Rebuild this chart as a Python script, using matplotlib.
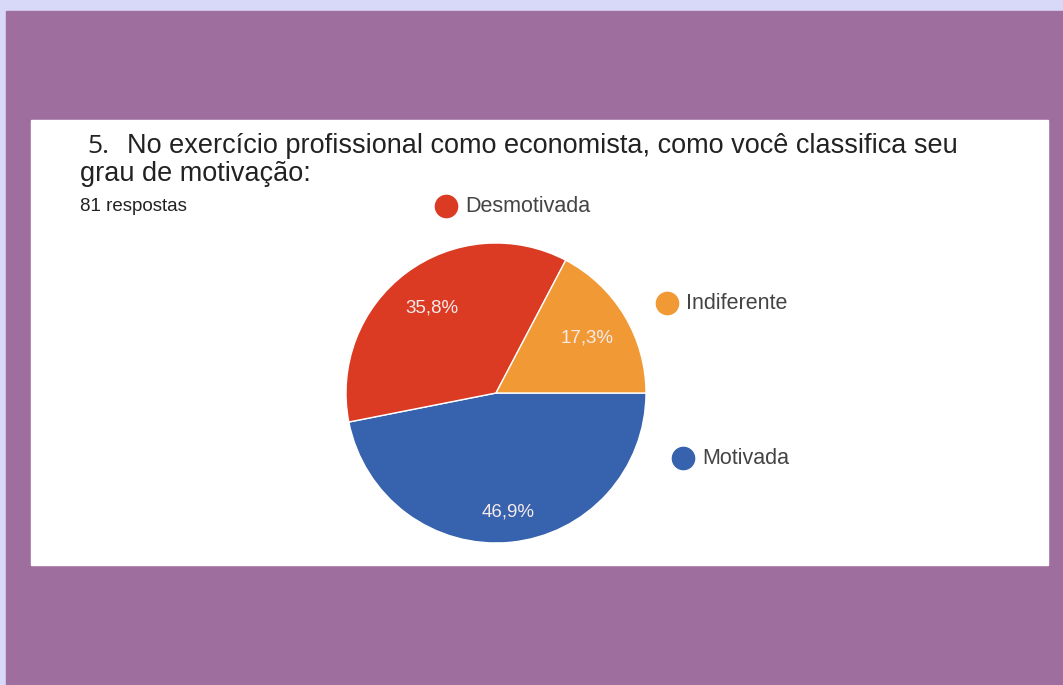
import matplotlib.pyplot as plt
import numpy as np
from matplotlib.patches import Rectangle

# data
labels = ['Motivada', 'Desmotivada', 'Indiferente']
values = [46.9, 35.8, 17.3]
colors = ['#3762AD', '#DB3A23', '#F19935']
pct_text = ['46,9%', '35,8%', '17,3%']

# legend spots in pixel coords (x, y from top)
legend_pos = {'Desmotivada': (446, 206), 'Indiferente': (667, 303), 'Motivada': (683, 458)}

plt.rcParams['font.family'] = ['Liberation Sans', 'DejaVu Sans']

W, H = 1063, 685
fig = plt.figure(figsize=(W / 100, H / 100), dpi=100)
fig.patch.set_facecolor('#D8D8F8')

def px_rect(x0, y0, x1, y1, color):
    fig.patches.append(Rectangle((x0 / W, 1 - y1 / H), (x1 - x0) / W, (y1 - y0) / H,
                                 transform=fig.transFigure, color=color, zorder=-5))

px_rect(6, 11, W, H, '#9E6F9E')
px_rect(31, 120, 1048, 565, 'white')

# overlay axes in pixel coordinates for texts and legend
ov = fig.add_axes([0, 0, 1, 1])
ov.set_xlim(0, W)
ov.set_ylim(H, 0)
ov.axis('off')
ov.patch.set_alpha(0)

ov.text(87, 153, '5.', fontsize=19, family='Open Sans', color='#222222', va='baseline')
ov.text(127, 153, 'No exercício profissional como economista, como você classifica seu',
        fontsize=19.5, color='#222222', va='baseline')
ov.text(80, 181, 'grau de motivação:', fontsize=19.5, color='#222222', va='baseline')
ov.text(80, 211, '81 respostas', fontsize=13.5, color='#222222', va='baseline')

for lab, col in zip(labels, colors):
    x, y = legend_pos[lab]
    ov.plot([x], [y], 'o', ms=16, color=col)
    ov.text(x + 19, y, lab, fontsize=15.5, color='#444444', va='center')

# pie
cx, cy, r = 496, 393, 150
ax = fig.add_axes([(cx - r) / W, 1 - (cy + r) / H, 2 * r / W, 2 * r / H])
wedges, _ = ax.pie(values, colors=colors, startangle=0, counterclock=False,
                   wedgeprops=dict(edgecolor='white', linewidth=1))
ax.set_xlim(-1, 1)
ax.set_ylim(-1, 1)
ax.set_aspect('equal')

dist = [0.8, 0.71, 0.71]
for w, t, d in zip(wedges, pct_text, dist):
    ang = np.deg2rad((w.theta1 + w.theta2) / 2)
    ax.text(d * np.cos(ang), d * np.sin(ang), t, ha='center', va='center',
            fontsize=13.5, color='#F6EAEA')

fig.savefig('out.png', dpi=100)
